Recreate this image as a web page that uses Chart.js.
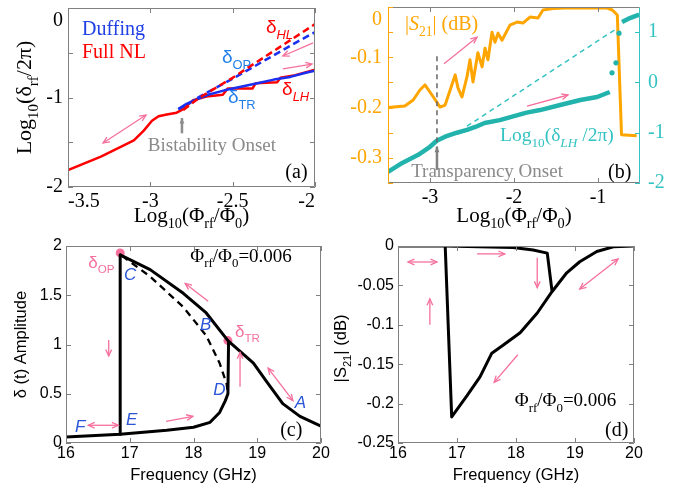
<!DOCTYPE html>
<html>
<head>
<meta charset="utf-8">
<script src="https://cdn.jsdelivr.net/npm/chart.js@4.4.1/dist/chart.umd.min.js"></script>
<style>
  body { margin: 0; background: #fff; width: 689px; height: 487px; position: relative; overflow: hidden; }
  canvas { position: absolute; }
</style>
</head>
<body>
<canvas id="ca" width="345" height="230" style="left:0;top:0"></canvas>
<canvas id="cb" width="349" height="230" style="left:340px;top:0"></canvas>
<canvas id="cc" width="345" height="257" style="left:0;top:230px"></canvas>
<canvas id="cd" width="364" height="257" style="left:325px;top:230px"></canvas>
<script>
/* ---------------- data: panel (a) ---------------- */
const aTicksX = [-3.5, -3, -2.5, -2];
const aTicksY = [-2, -1.5, -1, -0.5, 0];
// Full NL, lower branch (solid red)
const aNLLowX = [-3.5, -3.3, -3.1, -3.04, -2.99, -2.95, -2.9, -2.84, -2.8, -2.74, -2.66, -2.56, -2.53, -2.38, -2.36, -2.23, -2.21, -2.12, -2.0];
const aNLLowY = [-1.81, -1.66, -1.48, -1.37, -1.26, -1.21, -1.19, -1.17, -1.13, -1.03, -0.99, -0.97, -0.9, -0.9, -0.84, -0.83, -0.78, -0.75, -0.69];
// Full NL, upper branch (dashed red)
const aNLHighX = [-2.8, -2.75, -2.7, -2.6, -2.5, -2.41, -2.3, -2.2, -2.1, -2.0];
const aNLHighY = [-1.14, -1.07, -1.0, -0.89, -0.78, -0.67, -0.54, -0.42, -0.3, -0.18];
// Duffing, lower (solid blue) and upper (dashed blue)
const aDufLowX = [-2.83, -2.78, -2.72, -2.65, -2.55, -2.45, -2.35, -2.25, -2.15, -2.05, -2.0];
const aDufLowY = [-1.13, -1.07, -1.02, -0.97, -0.92, -0.88, -0.84, -0.8, -0.77, -0.72, -0.7];
const aDufHighX = [-2.83, -2.75, -2.7, -2.6, -2.5, -2.4, -2.3, -2.2, -2.1, -2.0];
const aDufHighY = [-1.13, -1.05, -0.99, -0.89, -0.79, -0.685, -0.58, -0.475, -0.37, -0.27];

/* ---------------- data: panel (b) ---------------- */
const bTicksX = [-3, -2, -1];
const bTicksL = [-0.35, -0.3, -0.25, -0.2, -0.15, -0.1, -0.05, 0];
const bTicksR = [-2, -1, 0, 1];
const bS21X = [-3.5, -3.3, -3.2, -3.12, -3.06, -2.96, -2.88, -2.82, -2.76, -2.7, -2.667, -2.62, -2.56, -2.524, -2.488, -2.43, -2.38, -2.345, -2.31, -2.262, -2.226, -2.19, -2.143, -2.048, -1.964, -1.893, -1.81, -1.714, -1.655, -1.536, -1.4, -0.89, -0.83, -0.77, -0.72, -0.54];
const bS21Y = [-0.2, -0.197, -0.185, -0.165, -0.155, -0.179, -0.199, -0.195, -0.165, -0.135, -0.161, -0.179, -0.139, -0.105, -0.149, -0.091, -0.119, -0.082, -0.105, -0.05, -0.07, -0.052, -0.066, -0.036, -0.03, -0.032, -0.02, -0.022, -0.006, -0.003, -0.002, -0.002, -0.006, -0.016, -0.254, -0.256];
const bLHX = [-3.5, -3.33, -3.14, -3.0, -2.92, -2.82, -2.68, -2.56, -2.46, -2.35, -2.17, -1.85, -1.69, -1.45, -1.21, -1.01, -0.86];
const bLHY = [-1.78, -1.6, -1.44, -1.28, -1.16, -1.08, -1.0, -0.945, -0.886, -0.806, -0.75, -0.6, -0.55, -0.45, -0.35, -0.29, -0.19];
const bJumpX = [-0.833, -0.786, -0.75];
const bJumpY = [0.19, 0.39, 0.98];
const bHighX = [-0.714, -0.62, -0.51];
const bHighY = [1.2, 1.28, 1.35];
const bGuideX = [-2.56, -0.77];
const bGuideY = [-0.87, 1.08];

/* ---------------- data: panel (c) ---------------- */
const cTicksX = [16, 17, 18, 19, 20];
const cTicksY = [0, 0.5, 1, 1.5, 2];
const cUpSweepX = [16, 16.85, 17.58, 18.0, 18.26, 18.41, 18.5, 18.54, 18.55];
const cUpSweepY = [0.06, 0.09, 0.13, 0.16, 0.21, 0.31, 0.43, 0.5, 1.03];
const cHighX = [16.85, 17.32, 17.84, 18.2, 18.54, 18.94, 19.15, 19.4, 19.67, 20];
const cHighY = [1.91, 1.76, 1.52, 1.32, 1.04, 0.81, 0.62, 0.4, 0.27, 0.17];
const cDropX = [16.85, 16.85];
const cDropY = [1.91, 0.09];
const cUnstX = [16.88, 17.32, 17.84, 18.2, 18.41, 18.52, 18.54];
const cUnstY = [1.9, 1.69, 1.38, 1.09, 0.81, 0.6, 0.5];
const cMarkX = [16.85, 18.54];
const cMarkY = [1.93, 1.04];

/* ---------------- data: panel (d) ---------------- */
const dTicksX = [16, 17, 18, 19, 20];
const dTicksY = [-0.25, -0.2, -0.15, -0.1, -0.05, 0];
const dMainX = [16, 16.8, 16.91, 17.17, 17.39, 17.59, 17.78, 18.07, 18.36, 18.61, 18.86, 19.08, 19.37, 19.65, 20];
const dMainY = [0, 0, -0.217, -0.19, -0.166, -0.136, -0.126, -0.11, -0.085, -0.058, -0.034, -0.02, -0.007, -0.001, 0];
const dUpX = [16.8, 17.95, 18.29, 18.53, 18.61];
const dUpY = [0, -0.002, -0.005, -0.009, -0.057];

/* ---------------- style ---------------- */
const SERIF = '"Liberation Serif", "Times New Roman", serif';
const SANS = '"Liberation Sans", Arial, sans-serif';
const PINK = '#f5709c';
const FRAME = '#808080';
const ORANGE = '#ffa500';
const TEAL = '#22b3ad';
const TEAL_TXT = '#34c3c3';
const RED = '#ff0000';
const BLUE = '#1a2ff0';
const LBLUE = '#1f7fea';
const KBLUE = '#2b55d8';
const GRAYTXT = '#8a8a8a';

/* ---------------- helpers ---------------- */
function line(xs, ys, color, width, dash, axisId) {
    return {
        data: xs.map((x, i) => ({ x, y: ys[i] })),
        showLine: true,
        borderColor: color,
        borderWidth: width,
        borderDash: dash || [],
        borderJoinStyle: 'round',
        pointRadius: 0,
        yAxisID: axisId || 'y'
    };
}

function axis(min, max, ticks, size, extra) {
    return Object.assign({
        type: 'linear',
        min,
        max,
        grid: { display: false, drawTicks: false },
        border: { display: false },
        afterBuildTicks: s => { s.ticks = ticks.map(v => ({ value: v })); },
        afterFit: s => { if (s.isHorizontal()) s.height = size; else s.width = size; }
    }, extra);
}

const fmt = v => String(+v.toFixed(2));

function P(c, x, y, id) {
    return [c.scales.x.getPixelForValue(x), c.scales[id || 'y'].getPixelForValue(y)];
}

// text with subscripts / italics: parts = [[text, flags]], flags 's' = subscript, 'i' = italic
function rich(ctx, parts, x, y, o) {
    const size = o.size;
    ctx.save();
    ctx.translate(x, y);
    if (o.rot) ctx.rotate(o.rot);
    const segs = parts.map(p => {
        const f = p[1] || '';
        const sub = f.includes('s');
        const sz = sub ? size * 0.68 : size;
        return { t: p[0], sub, font: (f.includes('i') ? 'italic ' : '') + sz.toFixed(1) + 'px ' + o.family };
    });
    let w = 0;
    segs.forEach(s => { ctx.font = s.font; s.w = ctx.measureText(s.t).width; w += s.w; });
    let cx = o.align === 'center' ? -w / 2 : 0;
    ctx.fillStyle = o.color;
    ctx.textAlign = 'left';
    ctx.textBaseline = 'alphabetic';
    segs.forEach(s => {
        ctx.font = s.font;
        ctx.fillText(s.t, cx, s.sub ? size * 0.3 : 0);
        cx += s.w;
    });
    ctx.restore();
}

function arrow(ctx, p, q, o) {
    const a = Math.atan2(q[1] - p[1], q[0] - p[0]);
    const h = o.head || 7;
    ctx.save();
    ctx.strokeStyle = o.color;
    ctx.fillStyle = o.color;
    ctx.lineWidth = o.width || 1.3;
    ctx.beginPath();
    ctx.moveTo(p[0], p[1]);
    ctx.lineTo(q[0], q[1]);
    ctx.stroke();
    const tip = (pt, ang) => {
        ctx.beginPath();
        ctx.moveTo(pt[0] - h * Math.cos(ang - 0.42), pt[1] - h * Math.sin(ang - 0.42));
        ctx.lineTo(pt[0], pt[1]);
        ctx.lineTo(pt[0] - h * Math.cos(ang + 0.42), pt[1] - h * Math.sin(ang + 0.42));
        if (o.filled) { ctx.closePath(); ctx.fill(); } else ctx.stroke();
    };
    tip(q, a);
    if (o.both) tip(p, a + Math.PI);
    ctx.restore();
}

function box(c, left, right, top, bottom) {
    const { ctx, chartArea: a } = c;
    const L = Math.round(a.left) + 0.5, R = Math.round(a.right) - 0.5;
    const T = Math.round(a.top) + 0.5, B = Math.round(a.bottom) - 0.5;
    ctx.save();
    ctx.lineWidth = 1;
    [[left, L, T, L, B], [right, R, T, R, B], [top, L, T, R, T], [bottom, L, B, R, B]].forEach(s => {
        ctx.strokeStyle = s[0];
        ctx.beginPath();
        ctx.moveTo(s[1], s[2]);
        ctx.lineTo(s[3], s[4]);
        ctx.stroke();
    });
    ctx.restore();
}

// MATLAB style ticks pointing into the plot
function inTicks(c, sc, sides, color, len) {
    const { ctx, chartArea: a } = c;
    ctx.save();
    ctx.strokeStyle = color;
    ctx.lineWidth = 1;
    ctx.beginPath();
    sc.ticks.forEach(t => {
        const p = Math.round(sc.getPixelForValue(t.value)) + 0.5;
        sides.forEach(s => {
            if (s === 'b') { ctx.moveTo(p, a.bottom); ctx.lineTo(p, a.bottom - len); }
            if (s === 't') { ctx.moveTo(p, a.top); ctx.lineTo(p, a.top + len); }
            if (s === 'l') { ctx.moveTo(a.left, p); ctx.lineTo(a.left + len, p); }
            if (s === 'r') { ctx.moveTo(a.right, p); ctx.lineTo(a.right - len, p); }
        });
    });
    ctx.stroke();
    ctx.restore();
}

// y tick labels, the top one pushed inside the box like the reference
function yLabels(c, sc, side, color, font, gap, label) {
    const { ctx, chartArea: a } = c;
    ctx.save();
    ctx.fillStyle = color;
    ctx.font = font;
    ctx.textAlign = side === 'l' ? 'right' : 'left';
    sc.ticks.forEach(t => {
        const s = label(t.value);
        if (!s) return;
        let p = sc.getPixelForValue(t.value);
        ctx.textBaseline = 'middle';
        if (p - a.top < 4) { ctx.textBaseline = 'top'; p = a.top + 3; }
        ctx.fillText(s, side === 'l' ? a.left - gap : a.right + gap, p);
    });
    ctx.restore();
}

const base = (padding) => ({
    responsive: false,
    animation: false,
    layout: { padding },
    plugins: { legend: { display: false }, tooltip: { enabled: false } }
});

const phiTitle = [['Log'], ['10', 's'], ['(Φ'], ['rf', 's'], ['/Φ'], ['0', 's'], [')']];
const phiVal = [['Φ'], ['rf', 's'], ['/Φ'], ['0', 's'], ['=0.006']];

/* ---------------- (a) ---------------- */
new Chart(document.getElementById('ca'), {
    type: 'scatter',
    data: {
        datasets: [
            line(aNLHighX, aNLHighY, RED, 2.5, [7, 4]),
            line(aDufHighX, aDufHighY, BLUE, 2.5, [7, 4]),
            line(aDufLowX, aDufLowY, BLUE, 2.5),
            line(aNLLowX, aNLLowY, RED, 2.5)
        ]
    },
    options: Object.assign(base({ left: 0, right: 30, top: 8, bottom: 0 }), {
        scales: {
            x: axis(-3.5, -2, aTicksX, 43, {
                ticks: { font: { family: SERIF, size: 20 }, color: '#000', padding: 3, align: 'inner', maxRotation: 0, autoSkip: false, callback: v => fmt(v) }
            }),
            y: axis(-2, 0, aTicksY, 68, { ticks: { display: false } })
        }
    }),
    plugins: [{
        id: 'decoA',
        afterDraw(c) {
            const ctx = c.ctx, a = c.chartArea;
            box(c, FRAME, FRAME, FRAME, FRAME);
            inTicks(c, c.scales.x, ['b', 't'], FRAME, 5);
            inTicks(c, c.scales.y, ['l', 'r'], FRAME, 5);
            yLabels(c, c.scales.y, 'l', '#000', '20px ' + SERIF, 5, v => Number.isInteger(v) ? String(v) : '');
            rich(ctx, phiTitle, (a.left + a.right) / 2, 222, { size: 21, family: SERIF, color: '#000', align: 'center' });
            rich(ctx, [['Log'], ['10', 's'], ['(δ'], ['rf', 's'], ['/2π)']], 31, (a.top + a.bottom) / 2, { size: 22, family: SERIF, color: '#000', align: 'center', rot: -Math.PI / 2 });
            let p;
            p = P(c, -3.415, -0.298); rich(ctx, [['Duffing']], p[0], p[1], { size: 20, family: SERIF, color: '#2040e6' });
            p = P(c, -3.415, -0.559); rich(ctx, [['Full NL']], p[0], p[1], { size: 20, family: SERIF, color: RED });
            p = P(c, -2.298, -0.279); rich(ctx, [['δ'], ['HL', 'si']], p[0], p[1], { size: 19, family: SANS, color: RED });
            p = P(c, -2.565, -0.615); rich(ctx, [['δ'], ['OP', 's']], p[0], p[1], { size: 19, family: SANS, color: LBLUE });
            p = P(c, -2.529, -1.061); rich(ctx, [['δ'], ['TR', 's']], p[0], p[1], { size: 19, family: SANS, color: LBLUE });
            p = P(c, -2.2, -0.972); rich(ctx, [['δ'], ['LH', 'si']], p[0], p[1], { size: 19, family: SANS, color: RED });
            p = P(c, -2.626, -1.598); rich(ctx, [['Bistability Onset']], p[0], p[1], { size: 19, family: SERIF, color: GRAYTXT, align: 'center' });
            p = P(c, -2.18, -1.9); rich(ctx, [['(a)']], p[0], p[1], { size: 20, family: SERIF, color: '#000' });
            arrow(ctx, P(c, -2.808, -1.4), P(c, -2.808, -1.23), { color: '#8c8c8c', width: 2.5, head: 6, filled: true });
            arrow(ctx, P(c, -3.287, -1.508), P(c, -3.026, -1.196), { color: PINK, both: true });
            arrow(ctx, P(c, -2.012, -0.39), P(c, -2.195, -0.536), { color: PINK });
            arrow(ctx, P(c, -2.195, -0.68), P(c, -2.018, -0.626), { color: PINK });
        }
    }]
});

/* ---------------- (b) ---------------- */
new Chart(document.getElementById('cb'), {
    type: 'scatter',
    data: {
        datasets: [
            line(bGuideX, bGuideY, TEAL_TXT, 1.5, [5, 4], 'y2'),
            line(bLHX, bLHY, TEAL, 4.5, null, 'y2'),
            Object.assign(line(bJumpX, bJumpY, TEAL, 0, null, 'y2'), { showLine: false, pointRadius: 2.6, pointBackgroundColor: TEAL, pointBorderWidth: 0 }),
            line(bHighX, bHighY, TEAL, 4.5, null, 'y2'),
            line(bS21X, bS21Y, ORANGE, 3)
        ]
    },
    options: Object.assign(base({ left: 0, right: 0, top: 7, bottom: 0 }), {
        scales: {
            x: axis(-3.5, -0.5, bTicksX, 47, {
                ticks: { font: { family: SERIF, size: 20 }, color: '#000', padding: 3, maxRotation: 0, autoSkip: false, callback: v => fmt(v) }
            }),
            y: axis(-0.35, 0, bTicksL, 48, { ticks: { display: false } }),
            y2: axis(-2, 1.5, bTicksR, 49, { position: 'right', ticks: { display: false } })
        }
    }),
    plugins: [{
        id: 'decoB',
        afterDraw(c) {
            const ctx = c.ctx, a = c.chartArea;
            box(c, ORANGE, TEAL_TXT, FRAME, FRAME);
            inTicks(c, c.scales.x, ['b', 't'], FRAME, 5);
            inTicks(c, c.scales.y, ['l'], ORANGE, 5);
            inTicks(c, c.scales.y2, ['r'], TEAL_TXT, 5);
            yLabels(c, c.scales.y, 'l', ORANGE, '20px ' + SERIF, 6, v => (Math.round(v * 100) % 10 === 0 && v > -0.35) ? fmt(v) : '');
            yLabels(c, c.scales.y2, 'r', TEAL_TXT, '20px ' + SERIF, 8, v => fmt(v));
            rich(ctx, phiTitle, (a.left + a.right) / 2, 222, { size: 21, family: SERIF, color: '#000', align: 'center' });
            let p;
            // transparency onset marker
            const top = P(c, -2.917, -0.098), bot = P(c, -2.917, -0.278);
            ctx.save();
            ctx.strokeStyle = '#666';
            ctx.lineWidth = 1.5;
            ctx.setLineDash([5, 4]);
            ctx.beginPath();
            ctx.moveTo(top[0], top[1]);
            ctx.lineTo(bot[0], bot[1]);
            ctx.stroke();
            ctx.restore();
            arrow(ctx, P(c, -2.917, -0.324), P(c, -2.917, -0.278), { color: '#808080', width: 2.5, head: 6, filled: true });
            p = P(c, -2.321, -0.338); rich(ctx, [['Transparency Onset']], p[0], p[1], { size: 19, family: SERIF, color: GRAYTXT, align: 'center' });
            p = P(c, -3.298, -0.0457); rich(ctx, [['|'], ['S', 'i'], ['21', 's'], ['| (dB)']], p[0], p[1], { size: 20, family: SERIF, color: ORANGE });
            p = P(c, -2.167, -0.266); rich(ctx, [['Log'], ['10', 's'], ['(δ'], ['LH', 'si'], [' /2π)']], p[0], p[1], { size: 19.5, family: SERIF, color: TEAL_TXT });
            p = P(c, -0.881, -0.34); rich(ctx, [['(b)']], p[0], p[1], { size: 20, family: SERIF, color: '#000' });
            arrow(ctx, P(c, -2.833, -0.113), P(c, -2.44, -0.06), { color: PINK });
            arrow(ctx, P(c, -1.845, -0.197), P(c, -1.357, -0.175), { color: PINK });
        }
    }]
});

/* ---------------- (c) ---------------- */
const tickSans = { font: { family: SANS, size: 16 }, color: '#000', padding: 1, maxRotation: 0, autoSkip: false, callback: v => fmt(v) };

new Chart(document.getElementById('cc'), {
    type: 'scatter',
    data: {
        datasets: [
            line(cUnstX, cUnstY, '#000', 2.3, [7, 5]),
            line(cDropX, cDropY, '#000', 3),
            line(cUpSweepX, cUpSweepY, '#000', 3),
            line(cHighX, cHighY, '#000', 3),
            Object.assign(line(cMarkX, cMarkY, PINK, 0), { showLine: false, pointRadius: 4.5, pointBackgroundColor: PINK, pointBorderWidth: 0 })
        ]
    },
    options: Object.assign(base({ left: 0, right: 24, top: 16, bottom: 0 }), {
        scales: {
            x: axis(16, 20, cTicksX, 44, { ticks: tickSans }),
            y: axis(0, 2, cTicksY, 66, { ticks: Object.assign({}, tickSans, { padding: 4 }) })
        }
    }),
    plugins: [{
        id: 'decoC',
        afterDraw(c) {
            const ctx = c.ctx, a = c.chartArea;
            box(c, FRAME, FRAME, FRAME, FRAME);
            inTicks(c, c.scales.x, ['b', 't'], FRAME, 5);
            inTicks(c, c.scales.y, ['l', 'r'], FRAME, 5);
            rich(ctx, [['Frequency (GHz)']], (a.left + a.right) / 2, 250, { size: 16.5, family: SANS, color: '#000', align: 'center' });
            rich(ctx, [['δ (t) Amplitude']], 26, (a.top + a.bottom) / 2, { size: 16.5, family: SANS, color: '#000', align: 'center', rot: -Math.PI / 2 });
            let p;
            p = P(c, 16.35, 1.78); rich(ctx, [['δ'], ['OP', 's']], p[0], p[1], { size: 17, family: SANS, color: PINK });
            p = P(c, 18.65, 1.08); rich(ctx, [['δ'], ['TR', 's']], p[0], p[1], { size: 17, family: SANS, color: PINK });
            p = P(c, 17.95, 1.84); rich(ctx, phiVal, p[0], p[1], { size: 19, family: SERIF, color: '#000' });
            const letters = [['C', 16.91, 1.65], ['B', 18.1, 1.15], ['D', 18.31, 0.49], ['E', 16.94, 0.18], ['F', 16.14, 0.11], ['A', 19.59, 0.355]];
            letters.forEach(l => {
                const q = P(c, l[1], l[2]);
                rich(ctx, [[l[0], 'i']], q[0], q[1], { size: 17, family: SANS, color: KBLUE });
            });
            p = P(c, 19.36, 0.07); rich(ctx, [['(c)']], p[0], p[1], { size: 20, family: SERIF, color: '#000' });
            arrow(ctx, P(c, 16.67, 1.046), P(c, 16.67, 0.883), { color: PINK });
            arrow(ctx, P(c, 18.73, 0.57), P(c, 18.73, 0.92), { color: PINK });
            arrow(ctx, P(c, 18.23, 1.44), P(c, 17.87, 1.62), { color: PINK });
            arrow(ctx, P(c, 19.17, 0.76), P(c, 19.56, 0.43), { color: PINK, both: true });
            arrow(ctx, P(c, 17.57, 0.22), P(c, 17.99, 0.27), { color: PINK });
            arrow(ctx, P(c, 16.35, 0.18), P(c, 16.82, 0.18), { color: PINK, both: true });
        }
    }]
});

/* ---------------- (d) ---------------- */
new Chart(document.getElementById('cd'), {
    type: 'scatter',
    data: {
        datasets: [
            line(dUpX, dUpY, '#000', 3),
            line(dMainX, dMainY, '#000', 3)
        ]
    },
    options: Object.assign(base({ left: 0, right: 55, top: 16, bottom: 0 }), {
        scales: {
            x: axis(16, 20, dTicksX, 44, { ticks: tickSans }),
            y: axis(-0.25, 0, dTicksY, 73, { ticks: Object.assign({}, tickSans, { padding: 4 }) })
        }
    }),
    plugins: [{
        id: 'decoD',
        afterDraw(c) {
            const ctx = c.ctx, a = c.chartArea;
            box(c, FRAME, FRAME, FRAME, FRAME);
            inTicks(c, c.scales.x, ['b', 't'], FRAME, 5);
            inTicks(c, c.scales.y, ['l', 'r'], FRAME, 5);
            rich(ctx, [['Frequency (GHz)']], (a.left + a.right) / 2, 250, { size: 16.5, family: SANS, color: '#000', align: 'center' });
            rich(ctx, [['|S'], ['21', 's'], ['| (dB)']], 21, (a.top + a.bottom) / 2 + 4, { size: 16.5, family: SANS, color: '#000', align: 'center', rot: -Math.PI / 2 });
            let p;
            p = P(c, 17.98, -0.203); rich(ctx, phiVal, p[0], p[1], { size: 19, family: SERIF, color: '#000' });
            p = P(c, 19.51, -0.241); rich(ctx, [['(d)']], p[0], p[1], { size: 20, family: SERIF, color: '#000' });
            arrow(ctx, P(c, 16.17, -0.0203), P(c, 16.66, -0.0203), { color: PINK, both: true });
            arrow(ctx, P(c, 17.34, -0.01), P(c, 17.81, -0.01), { color: PINK });
            arrow(ctx, P(c, 18.36, -0.015), P(c, 18.36, -0.053), { color: PINK });
            arrow(ctx, P(c, 16.54, -0.1), P(c, 16.54, -0.067), { color: PINK });
            arrow(ctx, P(c, 19.08, -0.0546), P(c, 19.73, -0.0165), { color: PINK, both: true });
            arrow(ctx, P(c, 18.03, -0.138), P(c, 17.63, -0.173), { color: PINK });
        }
    }]
});
</script>
</body>
</html>
